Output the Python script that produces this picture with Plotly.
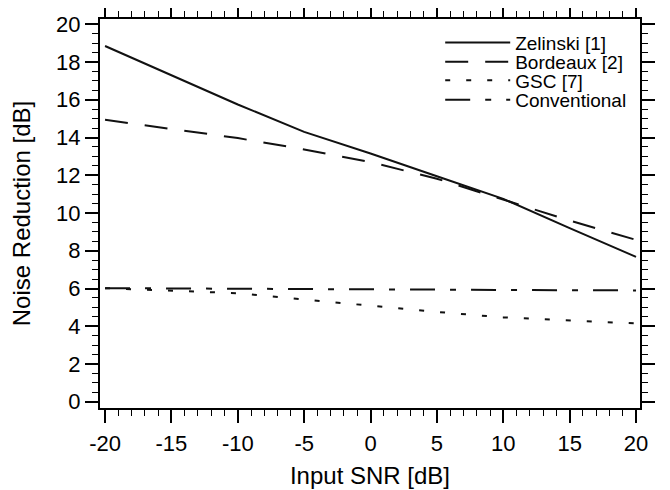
import plotly.graph_objects as go

snr = [-20, -15, -10, -5, 0, 5, 10, 15, 20]
zelinski = [18.85, 17.3, 15.75, 14.3, 13.15, 11.95, 10.75, 9.2, 7.68]
bordeaux = [14.94, 14.45, 13.97, 13.37, 12.7, 11.82, 10.7, 9.6, 8.58]
gsc = [6.02, 5.9, 5.75, 5.42, 5.08, 4.76, 4.47, 4.31, 4.15]
conventional = [6.02, 6.0, 5.99, 5.97, 5.96, 5.94, 5.93, 5.91, 5.9]

x_ticks = [-20, -15, -10, -5, 0, 5, 10, 15, 20]
x_ticktext = ["-20", "-15", "-10", "-5", "0", "5", "10", "15", "20"]
y_ticks = [0, 2, 4, 6, 8, 10, 12, 14, 16, 18, 20]

names = ["Zelinski [1]", "Bordeaux [2]", "GSC [7]", "Conventional"]
series = [zelinski, bordeaux, gsc, conventional]
dashes = ["solid", "23px,17px", "5px,16px", "25px,15px,6px,15px"]
legends = ["legend", "legend2", "legend3", "legend4"]
leg_y = [0.939, 0.8895, 0.842, 0.792]

FONT = "Liberation Sans, Arial, Helvetica, sans-serif"

fig = go.Figure()
for nm, ys, d, lg in zip(names, series, dashes, legends):
    fig.add_trace(go.Scatter(x=snr, y=ys, mode="lines", name=nm, legend=lg,
                             line=dict(color="#111111", width=2, dash=d)))

axis_common = dict(
    showline=True, linecolor="black", linewidth=2, mirror="allticks",
    ticks="outside", ticklen=13, tickwidth=1.5, tickcolor="black",
    showgrid=False, zeroline=False, automargin=False,
    tickfont=dict(family=FONT, size=22, color="black"),
)

fig.update_xaxes(
    range=[-20.38, 20.3], tickmode="array", tickvals=x_ticks, ticktext=x_ticktext,
    ticklabelstandoff=2,
    minor=dict(tickmode="linear", dtick=1, tick0=0, ticks="outside", ticklen=6,
               tickwidth=1.2, tickcolor="black", showgrid=False),
    title=dict(text="Input SNR [dB]", font=dict(family=FONT, size=24, color="black"), standoff=12),
    **axis_common,
)
fig.update_yaxes(
    range=[-0.33, 20.28], tickmode="array", tickvals=y_ticks,
    minor=dict(tickmode="linear", dtick=0.5, tick0=0, ticks="outside", ticklen=6,
               tickwidth=1.2, tickcolor="black", showgrid=False),
    title=dict(text="Noise Reduction [dB]", font=dict(family=FONT, size=24, color="black"), standoff=24),
    **axis_common,
)

leg_common = dict(xanchor="left", yanchor="middle", x=0.63, bgcolor="rgba(0,0,0,0)",
                  font=dict(family=FONT, size=19, color="black"), itemwidth=65)
layout_legends = {}
for lg, yy in zip(legends, leg_y):
    layout_legends[lg] = dict(y=yy, **leg_common)

fig.update_layout(
    template="none",
    width=670, height=490,
    margin=dict(l=92, r=38, t=11, b=90),
    plot_bgcolor="white", paper_bgcolor="white",
    showlegend=True,
    **layout_legends,
)

fig.write_html("out.html")
